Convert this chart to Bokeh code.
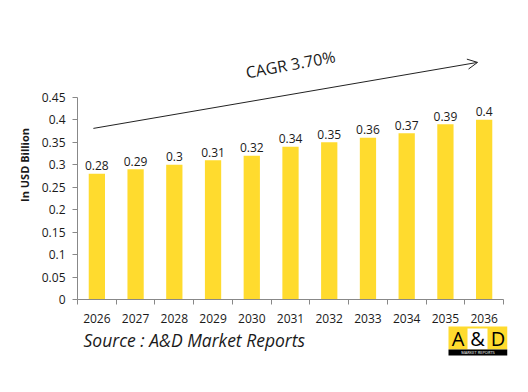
from bokeh.plotting import figure
from bokeh.layouts import column
from bokeh.models import (Range1d, FixedTicker, CustomJSTickFormatter, Label, Arrow,
                          OpenHead, ColumnDataSource)
from bokeh.core.properties import value
from bokeh.embed import file_html
from bokeh.resources import INLINE

years = ["2026", "2027", "2028", "2029", "2030", "2031", "2032", "2033", "2034", "2035", "2036"]
values = [0.28, 0.29, 0.30, 0.31, 0.32, 0.34, 0.35, 0.36, 0.37, 0.39, 0.40]
value_labels = ["0.28", "0.29", "0.3", "0.31", "0.32", "0.34", "0.35", "0.36", "0.37", "0.39", "0.4"]
y_ticks = [0, 0.05, 0.1, 0.15, 0.2, 0.25, 0.3, 0.35, 0.4, 0.45]
cagr_text = "CAGR 3.70%"
source_text = "Source : A&D Market Reports"

FONT = "Open Sans"
BAR = "#FFDB2E"
TXT = "#1a1a1a"
AX = "#888888"

n = len(years)
centers = [i + 0.5 for i in range(n)]
bounds = list(range(n + 1))
src = ColumnDataSource(dict(x=centers, top=values, lab=value_labels))

# main chart: frame extends above the 0.45 tick (CAGR arrow) and slightly right of the axis end
p = figure(width=520, height=325, output_backend="svg", toolbar_location=None,
           x_range=Range1d(0, n + 0.103), y_range=Range1d(0, 0.599),
           min_border_left=77, min_border_right=13, min_border_top=30, min_border_bottom=26)
p.outline_line_color = None
p.grid.grid_line_color = None

p.vbar(x="x", top="top", width=0.42, source=src, color=BAR, line_color=None)
p.text(x="x", y="top", text="lab", source=src, text_align="center", text_baseline="alphabetic",
       y_offset=-8, text_font=value(FONT), text_font_size="12px", text_color=TXT)

xa = p.xaxis[0]
xa.bounds = (0, n)
xa.ticker = FixedTicker(ticks=centers, minor_ticks=bounds)
xa.major_label_overrides = {c: y for c, y in zip(centers, years)}
xa.major_tick_out = 0
xa.major_tick_in = 0
xa.minor_tick_out = 5
xa.minor_tick_in = 0
xa.minor_tick_line_color = AX
xa.axis_line_color = AX
xa.major_label_text_font = FONT
xa.major_label_text_font_size = "12px"
xa.major_label_text_color = TXT
xa.major_label_standoff = 9

ya = p.yaxis[0]
ya.ticker = FixedTicker(ticks=y_ticks)
ya.bounds = (y_ticks[0], y_ticks[-1])
ya.formatter = CustomJSTickFormatter(code="return String(Number(tick.toFixed(2)));")
ya.major_tick_out = 5
ya.major_tick_in = 0
ya.minor_tick_line_color = None
ya.major_tick_line_color = AX
ya.axis_line_color = AX
ya.major_label_text_font = FONT
ya.major_label_text_font_size = "12px"
ya.major_label_text_color = TXT
ya.major_label_standoff = 7
ya.axis_label = "In USD Billion"
ya.axis_label_text_font = FONT
ya.axis_label_text_font_style = "bold"
ya.axis_label_text_font_size = "11px"
ya.axis_label_text_color = TXT
ya.axis_label_standoff = 7

p.add_layout(Arrow(end=OpenHead(size=10, line_width=1, line_color="#222222"),
                   x_start=0.41, y_start=0.381, x_end=10.33, y_end=0.528,
                   line_width=1, line_color="#222222"))
p.add_layout(Label(x=5.5, y=0.5235, text=cagr_text, text_align="center",
                   text_baseline="middle", angle=0.18,
                   text_font=FONT, text_font_size="16px", text_color=TXT))

# footer: source note and logo (frame is aligned with the main frame: x in page pixels)
f = figure(width=520, height=59, output_backend="svg", toolbar_location=None,
           x_axis_type=None, y_axis_type=None,
           x_range=Range1d(77, 507), y_range=Range1d(59, 0),
           min_border_left=77, min_border_right=13, min_border_top=0, min_border_bottom=0)
f.grid.grid_line_color = None
f.outline_line_color = None
f.text(x=[83], y=[14], text=[source_text], text_font=value(FONT), text_font_style="italic",
       text_font_size="17.5px", text_color=TXT, text_align="left", text_baseline="alphabetic")
f.quad(left=[448], right=[507], top=[1], bottom=[24], color=BAR, line_color=None)
f.quad(left=[467], right=[487], top=[3], bottom=[24], color="white", line_color=None)
f.quad(left=[448], right=[507], top=[24], bottom=[30], color="black", line_color=None)
f.text(x=[457.5, 477, 497.5], y=[12.5, 12.5, 12.5], text=["A", "&", "D"], text_align="center",
       text_baseline="middle", text_font=value(FONT), text_font_size="20px", text_color="black")
f.text(x=[477.5], y=[27.2], text=["MARKET REPORTS"], text_align="center", text_baseline="middle",
       text_font=value(FONT), text_font_size="4px", text_color="white")

layout = column(p, f, spacing=0)
open("out.html", "w").write(file_html(layout, INLINE))
